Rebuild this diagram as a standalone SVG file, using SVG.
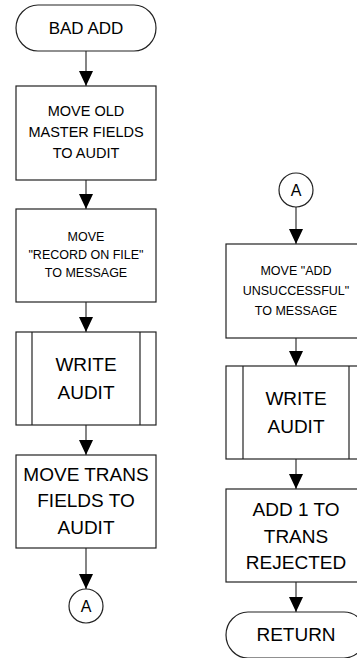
<svg xmlns="http://www.w3.org/2000/svg" width="357" height="658" viewBox="0 0 357 658">
<defs>
<marker id="arr" markerUnits="userSpaceOnUse" markerWidth="15" markerHeight="14" refX="15" refY="7" orient="auto">
<path d="M0,0 L15,7 L0,14 Z" fill="#000"/>
</marker>
<style>
.s{fill:#fff;stroke:#222;stroke-width:1.2}
.l{fill:none;stroke:#222;stroke-width:1.2}
.c{stroke:#333;stroke-width:1.2;fill:none}
text{font-family:"Liberation Sans",Arial,sans-serif;fill:#000;text-anchor:middle}
.f12{font-size:12.5px}
.f14{font-size:14.5px}
.f16{font-size:16px}
.f17{font-size:17px}
.f19{font-size:19px}
</style>
</defs>
<rect width="357" height="658" fill="#fff"/>
<g id="connectors">
<line class="c" x1="86" y1="51" x2="86" y2="86" marker-end="url(#arr)"/>
<line class="c" x1="86" y1="180" x2="86" y2="209" marker-end="url(#arr)"/>
<line class="c" x1="86" y1="302" x2="86" y2="332" marker-end="url(#arr)"/>
<line class="c" x1="86" y1="425" x2="86" y2="455" marker-end="url(#arr)"/>
<line class="c" x1="86" y1="548" x2="86" y2="589" marker-end="url(#arr)"/>
<line class="c" x1="296" y1="207" x2="296" y2="244" marker-end="url(#arr)"/>
<line class="c" x1="296" y1="338" x2="296" y2="366" marker-end="url(#arr)"/>
<line class="c" x1="296" y1="459" x2="296" y2="489" marker-end="url(#arr)"/>
<line class="c" x1="296" y1="582" x2="296" y2="612" marker-end="url(#arr)"/>
</g>
<g id="bad-add">
<rect class="s" x="16" y="5" width="140" height="46" rx="22" ry="23"/>
<text class="f17" x="86" y="34">BAD ADD</text>
</g>
<g id="move-old-master">
<rect class="s" x="16" y="86" width="140" height="94"/>
<text class="f14" x="86" y="116">MOVE OLD</text>
<text class="f14" x="86" y="137">MASTER FIELDS</text>
<text class="f14" x="86" y="158">TO AUDIT</text>
</g>
<g id="move-record-on-file">
<rect class="s" x="16" y="209" width="140" height="93"/>
<text class="f12" x="86" y="241">MOVE</text>
<text class="f12" x="86" y="259">"RECORD ON FILE"</text>
<text class="f12" x="86" y="277">TO MESSAGE</text>
</g>
<g id="write-audit-1">
<rect class="s" x="16" y="332" width="140" height="93"/>
<line class="l" x1="32" y1="332" x2="32" y2="425"/>
<line class="l" x1="140" y1="332" x2="140" y2="425"/>
<text class="f19" x="86" y="371">WRITE</text>
<text class="f19" x="86" y="399">AUDIT</text>
</g>
<g id="move-trans-fields">
<rect class="s" x="16" y="455" width="140" height="93"/>
<text class="f19" x="86" y="481">MOVE TRANS</text>
<text class="f19" x="86" y="507">FIELDS TO</text>
<text class="f19" x="86" y="534">AUDIT</text>
</g>
<g id="connector-a-out">
<circle class="s" cx="86" cy="606" r="17"/>
<text class="f16" x="86" y="612">A</text>
</g>
<g id="connector-a-in">
<circle class="s" cx="296" cy="190" r="17"/>
<text class="f16" x="296" y="196">A</text>
</g>
<g id="move-add-unsuccessful">
<rect class="s" x="226" y="244" width="140" height="94"/>
<text class="f12" x="296" y="275">MOVE "ADD</text>
<text class="f12" x="296" y="295">UNSUCCESSFUL"</text>
<text class="f12" x="296" y="315">TO MESSAGE</text>
</g>
<g id="write-audit-2">
<rect class="s" x="226" y="366" width="140" height="93"/>
<line class="l" x1="243" y1="366" x2="243" y2="459"/>
<line class="l" x1="349" y1="366" x2="349" y2="459"/>
<text class="f19" x="296" y="405">WRITE</text>
<text class="f19" x="296" y="433">AUDIT</text>
</g>
<g id="add-1-to-trans-rejected">
<rect class="s" x="226" y="489" width="140" height="93"/>
<text class="f19" x="296" y="516">ADD 1 TO</text>
<text class="f19" x="296" y="543">TRANS</text>
<text class="f19" x="296" y="569">REJECTED</text>
</g>
<g id="return">
<rect class="s" x="226" y="612" width="140" height="46" rx="22" ry="23"/>
<text class="f19" x="296" y="641">RETURN</text>
</g>
</svg>
